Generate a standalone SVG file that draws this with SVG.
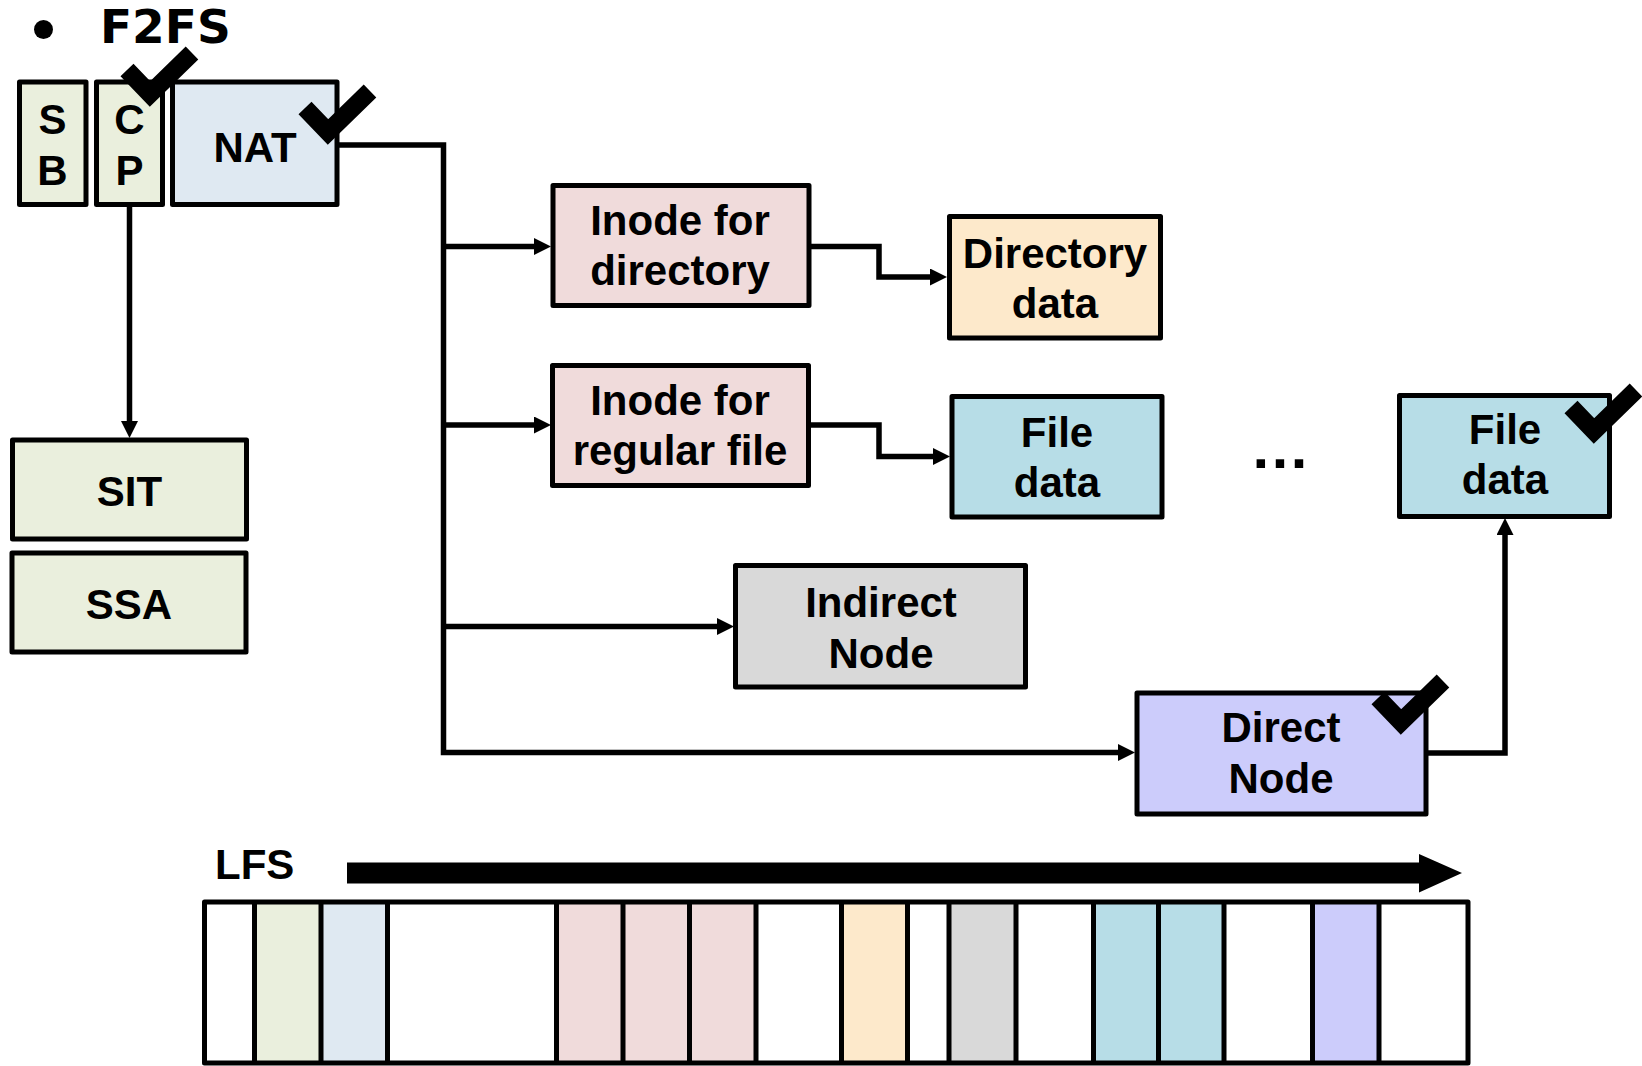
<svg xmlns="http://www.w3.org/2000/svg" xmlns:xlink="http://www.w3.org/1999/xlink" width="1642" height="1066" viewBox="0 0 1642 1066">
<style>
.box{stroke:#000;stroke-width:5;stroke-linejoin:round}
.lbl{font-family:"Liberation Sans",Arial,sans-serif;font-weight:bold;font-size:42px;fill:#000;text-anchor:middle}
.conn{fill:none;stroke:#000;stroke-width:5.5;stroke-linejoin:miter}
.chk{fill:none;stroke:#000;stroke-width:18;stroke-linejoin:miter;stroke-linecap:butt}
.seg{stroke:#000;stroke-width:5}
.g{fill:#EAEFDD}.nb{fill:#DFE9F2}.pk{fill:#F0DBDB}.or{fill:#FDE9CB}.fb{fill:#B7DDE7}.gr{fill:#D9D9D9}.pu{fill:#CCCCFB}.wh{fill:#FFFFFF}
</style>
<defs>
<marker id="ah" markerUnits="userSpaceOnUse" markerWidth="17" markerHeight="17" refX="7" refY="8.5" orient="auto">
<path d="M0,0 L17,8.5 L0,17 z" fill="#000"/>
</marker>
<path id="chkp" d="M0,0 l23,24 l42,-41"/>
</defs>
<rect width="1642" height="1066" fill="#fff"/>

<g id="title">
<circle cx="43.5" cy="29.5" r="9.5" fill="#000"/>
<text x="100" y="43" style="font-family:'DejaVu Sans',Verdana,sans-serif;font-weight:bold;font-size:47px">F2FS</text>
</g>

<g id="connectors">
<path class="conn" d="M129.5,207 V428" marker-end="url(#ah)"/>
<path class="conn" d="M339,145 H443.5 V752.5 H1125" marker-end="url(#ah)"/>
<path class="conn" d="M443.5,246.5 H541" marker-end="url(#ah)"/>
<path class="conn" d="M443.5,425 H541" marker-end="url(#ah)"/>
<path class="conn" d="M443.5,626.5 H724" marker-end="url(#ah)"/>
<path class="conn" d="M810,246.5 H879 V277 H937" marker-end="url(#ah)"/>
<path class="conn" d="M810,425 H879 V456.5 H940" marker-end="url(#ah)"/>
<path class="conn" d="M1428,753 H1505 V528" marker-end="url(#ah)"/>
</g>

<g id="sb">
<rect class="box g" x="19.5" y="82" width="66.5" height="122.5"/>
<text class="lbl" x="52.5" y="134">S</text>
<text class="lbl" x="52.5" y="185">B</text>
</g>
<g id="cp">
<rect class="box g" x="96.5" y="82" width="66" height="122.5"/>
<text class="lbl" x="129.5" y="134">C</text>
<text class="lbl" x="129.5" y="185">P</text>
</g>
<g id="nat">
<rect class="box nb" x="172.5" y="82" width="164.5" height="122.5"/>
<text class="lbl" x="255" y="161.5">NAT</text>
</g>
<g id="sit">
<rect class="box g" x="12.5" y="440" width="234" height="99"/>
<text class="lbl" x="129.5" y="506">SIT</text>
</g>
<g id="ssa">
<rect class="box g" x="12" y="553" width="234" height="99"/>
<text class="lbl" x="129" y="619">SSA</text>
</g>
<g id="inode-dir">
<rect class="box pk" x="553" y="185.5" width="256" height="120"/>
<text class="lbl" x="680" y="235">Inode for</text>
<text class="lbl" x="680" y="285">directory</text>
</g>
<g id="inode-reg">
<rect class="box pk" x="552.5" y="365.5" width="256" height="120"/>
<text class="lbl" x="680" y="415">Inode for</text>
<text class="lbl" x="680" y="465">regular file</text>
</g>
<g id="dir-data">
<rect class="box or" x="949.5" y="216.5" width="211" height="121.5"/>
<text class="lbl" x="1055" y="268">Directory</text>
<text class="lbl" x="1055" y="318">data</text>
</g>
<g id="file-data-1">
<rect class="box fb" x="952" y="396.5" width="210" height="120.5"/>
<text class="lbl" x="1057" y="446.5">File</text>
<text class="lbl" x="1057" y="497">data</text>
</g>
<g id="ellipsis">
<text x="1250" y="468" style="font-family:'Liberation Sans',Arial,sans-serif;font-weight:bold;font-size:60px">…</text>
</g>
<g id="file-data-2">
<rect class="box fb" x="1399.5" y="395.5" width="210" height="121"/>
<text class="lbl" x="1505" y="443.5">File</text>
<text class="lbl" x="1505" y="493.5">data</text>
</g>
<g id="indirect-node">
<rect class="box gr" x="735.5" y="565.5" width="290" height="121.5"/>
<text class="lbl" x="881" y="616.5">Indirect</text>
<text class="lbl" x="881" y="667.5">Node</text>
</g>
<g id="direct-node">
<rect class="box pu" x="1137" y="693" width="289" height="121"/>
<text class="lbl" x="1281" y="741.5">Direct</text>
<text class="lbl" x="1281" y="793">Node</text>
</g>

<g id="checks">
<use xlink:href="#chkp" class="chk" transform="translate(127,70)"/>
<use xlink:href="#chkp" class="chk" transform="translate(305,108)"/>
<use xlink:href="#chkp" class="chk" transform="translate(1571,407)"/>
<use xlink:href="#chkp" class="chk" transform="translate(1378,698)"/>
</g>

<g id="lfs">
<text x="215" y="879" style="font-family:'Liberation Sans',Arial,sans-serif;font-weight:bold;font-size:42px">LFS</text>
<path d="M347,862.5 H1419 V854 L1462,873 L1419,892.5 V883.5 H347 z" fill="#000"/>
<rect class="wh" x="204.5" y="902" width="50" height="161"/>
<rect class="g" x="254.5" y="902" width="66.5" height="161"/>
<rect class="nb" x="321" y="902" width="66.5" height="161"/>
<rect class="pk" x="556.5" y="902" width="200" height="161"/>
<rect class="or" x="841.5" y="902" width="66" height="161"/>
<rect class="gr" x="949" y="902" width="67" height="161"/>
<rect class="fb" x="1093.5" y="902" width="130.5" height="161"/>
<rect class="pu" x="1312.5" y="902" width="66.5" height="161"/>
<path class="seg" fill="none" d="M254.5,902V1063 M321,902V1063 M387.5,902V1063 M556.5,902V1063 M623,902V1063 M689.5,902V1063 M756,902V1063 M841.5,902V1063 M907.5,902V1063 M949,902V1063 M1016,902V1063 M1093.5,902V1063 M1158.5,902V1063 M1224,902V1063 M1312.5,902V1063 M1379,902V1063"/>
<rect class="seg" fill="none" x="204.5" y="902" width="1263.5" height="161" stroke-linejoin="round"/>
</g>
</svg>
